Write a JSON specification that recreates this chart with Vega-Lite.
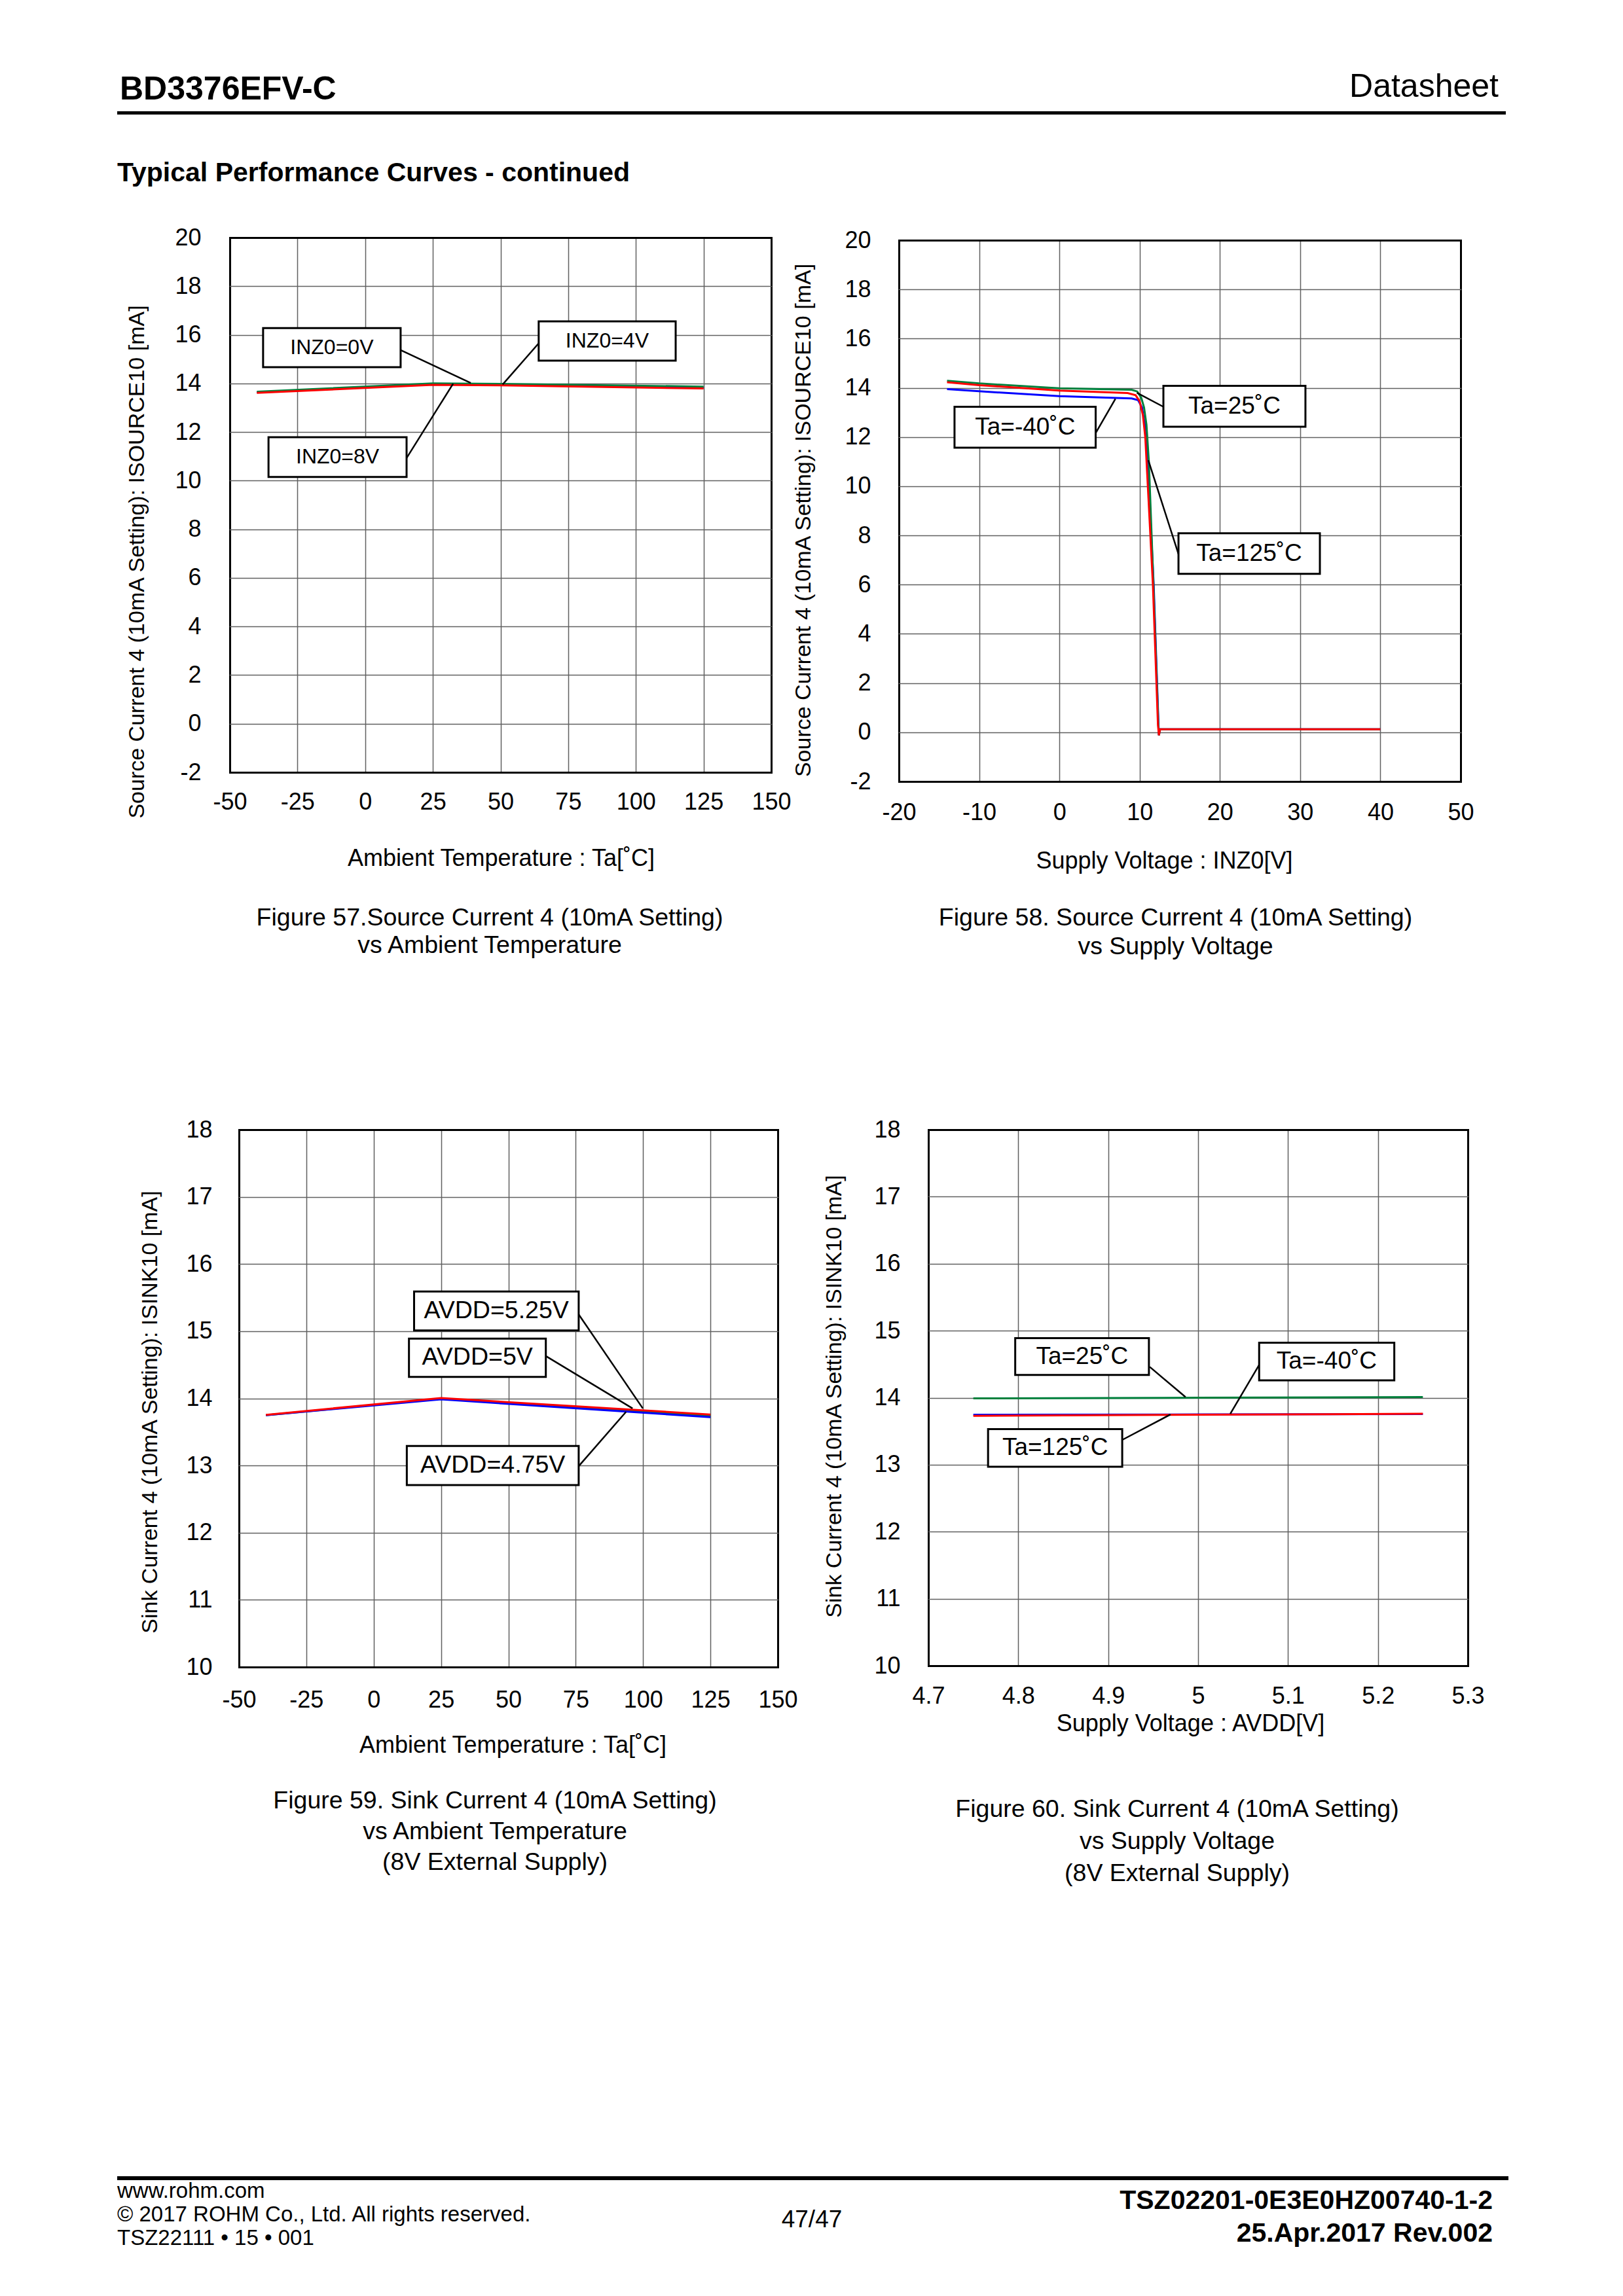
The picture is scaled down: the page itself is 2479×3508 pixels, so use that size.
{
  "$schema": "https://vega.github.io/schema/vega-lite/v6.json",
  "background": "white",
  "padding": 0,
  "spacing": 0,
  "columns": 6,
  "align": "each",
  "bounds": "flush",
  "resolve": {"scale": {"color": "independent"}},
  "datasets": {
    "none": [],
    "c1": [
      {"s": "1 INZ0=4V", "x": -40, "y": 13.63}, {"s": "1 INZ0=4V", "x": 25, "y": 13.97}, {"s": "1 INZ0=4V", "x": 50, "y": 13.95}, {"s": "1 INZ0=4V", "x": 125, "y": 13.83},
      {"s": "2 INZ0=0V", "x": -40, "y": 13.66}, {"s": "2 INZ0=0V", "x": 25, "y": 14.0}, {"s": "2 INZ0=0V", "x": 50, "y": 13.98}, {"s": "2 INZ0=0V", "x": 125, "y": 13.87},
      {"s": "3 INZ0=8V", "x": -40, "y": 13.61}, {"s": "3 INZ0=8V", "x": 25, "y": 13.94}, {"s": "3 INZ0=8V", "x": 50, "y": 13.92}, {"s": "3 INZ0=8V", "x": 125, "y": 13.79}
    ],
    "b1": [{"x": -37.7, "x2": 13.1, "y": 14.67, "y2": 16.28}, {"x": 64.1, "x2": 114.7, "y": 14.94, "y2": 16.55}, {"x": -35.7, "x2": 15.3, "y": 10.15, "y2": 11.79}],
    "l1": [{"x": 13.1, "y": 15.37, "x2": 39.0, "y2": 14.02}, {"x": 64.1, "y": 15.65, "x2": 50.8, "y2": 13.96}, {"x": 15.3, "y": 10.93, "x2": 32.5, "y2": 13.99}],
    "t1": [{"label": "INZ0=0V", "x": -12.3, "y": 15.47}, {"label": "INZ0=4V", "x": 89.4, "y": 15.75}, {"label": "INZ0=8V", "x": -10.2, "y": 10.97}],
    "c2": [
      {"s": "1 Ta=-40", "x": -14, "y": 13.95}, {"s": "1 Ta=-40", "x": -10, "y": 13.86}, {"s": "1 Ta=-40", "x": 0, "y": 13.66}, {"s": "1 Ta=-40", "x": 9, "y": 13.57}, {"s": "1 Ta=-40", "x": 9.8, "y": 13.5}, {"s": "1 Ta=-40", "x": 10.3, "y": 13.2}, {"s": "1 Ta=-40", "x": 10.7, "y": 12.4}, {"s": "1 Ta=-40", "x": 11.0, "y": 11.0}, {"s": "1 Ta=-40", "x": 11.75, "y": 6.0}, {"s": "1 Ta=-40", "x": 12.35, "y": 0.3}, {"s": "1 Ta=-40", "x": 12.4, "y": -0.12}, {"s": "1 Ta=-40", "x": 12.55, "y": 0.12}, {"s": "1 Ta=-40", "x": 40, "y": 0.12},
      {"s": "2 Ta=25", "x": -14, "y": 14.29}, {"s": "2 Ta=25", "x": -10, "y": 14.18}, {"s": "2 Ta=25", "x": 0, "y": 13.98}, {"s": "2 Ta=25", "x": 9, "y": 13.92}, {"s": "2 Ta=25", "x": 9.7, "y": 13.85}, {"s": "2 Ta=25", "x": 10.2, "y": 13.6}, {"s": "2 Ta=25", "x": 10.55, "y": 13.2}, {"s": "2 Ta=25", "x": 10.85, "y": 12.5}, {"s": "2 Ta=25", "x": 11.15, "y": 11.0}, {"s": "2 Ta=25", "x": 11.72, "y": 6.0}, {"s": "2 Ta=25", "x": 12.33, "y": 0.3}, {"s": "2 Ta=25", "x": 12.4, "y": -0.12}, {"s": "2 Ta=25", "x": 12.55, "y": 0.12}, {"s": "2 Ta=25", "x": 40, "y": 0.12},
      {"s": "3 Ta=125", "x": -14, "y": 14.23}, {"s": "3 Ta=125", "x": -10, "y": 14.11}, {"s": "3 Ta=125", "x": 0, "y": 13.89}, {"s": "3 Ta=125", "x": 8.5, "y": 13.79}, {"s": "3 Ta=125", "x": 9.5, "y": 13.7}, {"s": "3 Ta=125", "x": 10.0, "y": 13.45}, {"s": "3 Ta=125", "x": 10.4, "y": 12.9}, {"s": "3 Ta=125", "x": 10.7, "y": 12.0}, {"s": "3 Ta=125", "x": 11.1, "y": 9.5}, {"s": "3 Ta=125", "x": 11.65, "y": 6.0}, {"s": "3 Ta=125", "x": 12.28, "y": 0.3}, {"s": "3 Ta=125", "x": 12.4, "y": -0.12}, {"s": "3 Ta=125", "x": 12.55, "y": 0.12}, {"s": "3 Ta=125", "x": 40, "y": 0.12}
    ],
    "b2": [{"x": -13.07, "x2": 4.52, "y": 11.57, "y2": 13.23}, {"x": 12.96, "x2": 30.66, "y": 12.42, "y2": 14.08}, {"x": 14.84, "x2": 32.46, "y": 6.44, "y2": 8.09}],
    "l2": [{"x": 4.52, "y": 12.16, "x2": 6.98, "y2": 13.55}, {"x": 12.96, "y": 13.23, "x2": 9.66, "y2": 13.8}, {"x": 14.84, "y": 7.24, "x2": 11.08, "y2": 11.06}],
    "t2": [{"label": "Ta=-40˚C", "x": -4.27, "y": 12.4}, {"label": "Ta=25˚C", "x": 21.81, "y": 13.25}, {"label": "Ta=125˚C", "x": 23.65, "y": 7.27}],
    "c3": [
      {"s": "1 AVDD=5V", "x": -40, "y": 13.75}, {"s": "1 AVDD=5V", "x": 25, "y": 13.995}, {"s": "1 AVDD=5V", "x": 125, "y": 13.74},
      {"s": "2 AVDD=4.75V", "x": -40, "y": 13.75}, {"s": "2 AVDD=4.75V", "x": 25, "y": 13.985}, {"s": "2 AVDD=4.75V", "x": 125, "y": 13.72},
      {"s": "3 AVDD=5.25V", "x": -40, "y": 13.755}, {"s": "3 AVDD=5.25V", "x": 25, "y": 14.005}, {"s": "3 AVDD=5.25V", "x": 125, "y": 13.76}
    ],
    "b3": [{"x": 15.0, "x2": 76.1, "y": 15.01, "y2": 15.59}, {"x": 13.1, "x2": 63.9, "y": 14.32, "y2": 14.89}, {"x": 12.3, "x2": 76.1, "y": 12.71, "y2": 13.29}],
    "l3": [{"x": 76.1, "y": 15.25, "x2": 99.9, "y2": 13.85}, {"x": 63.9, "y": 14.63, "x2": 96.1, "y2": 13.85}, {"x": 76.1, "y": 12.99, "x2": 93.7, "y2": 13.8}],
    "t3": [{"label": "AVDD=5.25V", "x": 45.55, "y": 15.3}, {"label": "AVDD=5V", "x": 38.5, "y": 14.605}, {"label": "AVDD=4.75V", "x": 44.2, "y": 13.0}],
    "c4": [
      {"s": "1 Ta=25", "x": 4.75, "y": 13.99}, {"s": "1 Ta=25", "x": 5.0, "y": 14.0}, {"s": "1 Ta=25", "x": 5.25, "y": 14.01},
      {"s": "2 Ta=-40", "x": 4.75, "y": 13.745}, {"s": "2 Ta=-40", "x": 5.0, "y": 13.75}, {"s": "2 Ta=-40", "x": 5.25, "y": 13.755},
      {"s": "3 Ta=125", "x": 4.75, "y": 13.73}, {"s": "3 Ta=125", "x": 5.0, "y": 13.745}, {"s": "3 Ta=125", "x": 5.25, "y": 13.76}
    ],
    "b4": [{"x": 4.7966, "x2": 4.9453, "y": 14.34, "y2": 14.89}, {"x": 5.0679, "x2": 5.2182, "y": 14.26, "y2": 14.82}, {"x": 4.7664, "x2": 4.9156, "y": 12.97, "y2": 13.53}],
    "l4": [{"x": 4.9462, "y": 14.46, "x2": 4.986, "y2": 14.01}, {"x": 5.0679, "y": 14.49, "x2": 5.0358, "y2": 13.76}, {"x": 4.9156, "y": 13.37, "x2": 4.9693, "y2": 13.75}],
    "t4": [{"label": "Ta=25˚C", "x": 4.871, "y": 14.615}, {"label": "Ta=-40˚C", "x": 5.143, "y": 14.54}, {"label": "Ta=125˚C", "x": 4.841, "y": 13.25}]
  },
  "concat": [
    {"width": 179, "height": 1, "data": {"name": "none"}, "mark": "text"},
    {"width": 172, "height": 170, "data": {"name": "none"}, "mark": "text",
     "title": {"text": "BD3376EFV-C", "orient": "bottom", "anchor": "start", "frame": "group", "offset": -18, "dx": 4, "baseline": "alphabetic", "fontSize": 50, "fontWeight": "bold", "color": "black"}},
    {"width": 1, "height": 1, "data": {"name": "none"}, "mark": "text"},
    {"width": 1, "height": 1, "data": {"name": "none"}, "mark": "text"},
    {"width": 1, "height": 1, "data": {"name": "none"}, "mark": "text"},
    {"width": 47, "height": 170, "data": {"name": "none"}, "mark": "text",
     "title": {"text": "Datasheet", "orient": "bottom", "anchor": "end", "frame": "group", "offset": -22, "baseline": "alphabetic", "fontSize": 50, "fontWeight": "normal", "color": "black"}},

    {"width": 179, "height": 1, "data": {"name": "none"}, "mark": "text"},
    {"width": 172, "height": 5, "data": {"name": "none"}, "mark": "text", "view": {"fill": "black"}},
    {"width": 837, "height": 5, "data": {"name": "none"}, "mark": "text", "view": {"fill": "black"}},
    {"width": 185, "height": 5, "data": {"name": "none"}, "mark": "text", "view": {"fill": "black"}},
    {"width": 869, "height": 5, "data": {"name": "none"}, "mark": "text", "view": {"fill": "black"}},
    {"width": 58, "height": 5, "data": {"name": "none"}, "mark": "text", "view": {"fill": "black"}},

    {"width": 179, "height": 1, "data": {"name": "none"}, "mark": "text"},
    {"width": 172, "height": 188, "data": {"name": "none"}, "mark": "text",
     "title": {"text": "Typical Performance Curves - continued", "orient": "bottom", "anchor": "start", "frame": "group", "offset": -86, "baseline": "alphabetic", "fontSize": 41, "fontWeight": "bold", "color": "black"}},
    {"width": 1, "height": 1, "data": {"name": "none"}, "mark": "text"},
    {"width": 1, "height": 1, "data": {"name": "none"}, "mark": "text"},
    {"width": 1, "height": 1, "data": {"name": "none"}, "mark": "text"},
    {"width": 1, "height": 1, "data": {"name": "none"}, "mark": "text"},

    {"width": 179, "height": 1, "data": {"name": "none"}, "mark": "text"},
    {"width": 1, "height": 1, "data": {"name": "none"}, "mark": "text"},
    {
      "width": 827, "height": 817,
      "title": {"text": ["Figure 57.Source Current 4 (10mA Setting)", "vs Ambient Temperature"], "orient": "bottom", "anchor": "middle", "frame": "group", "offset": 85, "dx": -16.5, "baseline": "alphabetic", "lineHeight": 42, "fontSize": 37.5, "fontWeight": "normal", "color": "black"},
      "encoding": {
        "x": {"field": "x", "type": "quantitative", "scale": {"domain": [-50, 150], "nice": false, "zero": false},
              "axis": {"title": "Ambient Temperature : Ta[˚C]", "values": [-50, -25, 0, 25, 50, 75, 100, 125, 150], "labelExpr": "replace(format(datum.value, '~g'), '−', '-')", "labelPadding": 28, "titleX": 414, "titleY": 131, "titleBaseline": "middle", "titleFontSize": 36,
                       "gridColor": {"condition": {"test": "datum.value <= -50 || datum.value >= 150", "value": "black"}, "value": "#606060"},
                       "gridWidth": {"condition": {"test": "datum.value <= -50 || datum.value >= 150", "value": 3}, "value": 1.5}}},
        "y": {"field": "y", "type": "quantitative", "scale": {"domain": [-2, 20], "nice": false, "zero": false},
              "axis": {"title": "Source Current 4 (10mA Setting): ISOURCE10 [mA]", "values": [-2, 0, 2, 4, 6, 8, 10, 12, 14, 16, 18, 20], "labelExpr": "replace(format(datum.value, '~g'), '−', '-')", "labelPadding": 44, "titleX": -142, "titleY": 495, "titleBaseline": "middle", "titleFontSize": 34,
                       "gridColor": {"condition": {"test": "datum.value <= -2 || datum.value >= 20", "value": "black"}, "value": "#606060"},
                       "gridWidth": {"condition": {"test": "datum.value <= -2 || datum.value >= 20", "value": 3}, "value": 1.5}}}
      },
      "layer": [
        {"data": {"name": "c1"}, "mark": {"type": "line", "strokeWidth": 3},
         "encoding": {"color": {"field": "s", "type": "nominal", "scale": {"domain": ["1 INZ0=4V", "2 INZ0=0V", "3 INZ0=8V"], "range": ["#0000ff", "#00803c", "#ff0000"]}, "legend": null}}},
        {"data": {"name": "l1"}, "mark": {"type": "rule", "strokeWidth": 2.5, "color": "black"}, "encoding": {"x2": {"field": "x2"}, "y2": {"field": "y2"}}},
        {"data": {"name": "b1"}, "mark": {"type": "rect", "fill": "white", "stroke": "black", "strokeWidth": 3}, "encoding": {"x2": {"field": "x2"}, "y2": {"field": "y2"}}},
        {"data": {"name": "t1"}, "mark": {"type": "text", "fontSize": 32, "align": "center", "baseline": "middle", "color": "black"}, "encoding": {"text": {"field": "label"}}}
      ]
    },
    {"width": 185, "height": 1, "data": {"name": "none"}, "mark": "text"},
    {
      "width": 858, "height": 835,
      "title": {"text": ["Figure 58. Source Current 4 (10mA Setting)", "vs Supply Voltage"], "orient": "bottom", "anchor": "middle", "frame": "group", "offset": 81, "dx": -6.5, "baseline": "alphabetic", "lineHeight": 44, "fontSize": 37.5, "fontWeight": "normal", "color": "black"},
      "encoding": {
        "x": {"field": "x", "type": "quantitative", "scale": {"domain": [-20, 50], "nice": false, "zero": false},
              "axis": {"title": "Supply Voltage : INZ0[V]", "offset": -4, "values": [-20, -10, 0, 10, 20, 30, 40, 50], "labelExpr": "replace(format(datum.value, '~g'), '−', '-')", "labelPadding": 30, "titleX": 405, "titleY": 121, "titleBaseline": "middle", "titleFontSize": 36,
                       "gridColor": {"condition": {"test": "datum.value <= -20 || datum.value >= 50", "value": "black"}, "value": "#606060"},
                       "gridWidth": {"condition": {"test": "datum.value <= -20 || datum.value >= 50", "value": 3}, "value": 1.5}}},
        "y": {"field": "y", "type": "quantitative", "scale": {"domain": [-2, 20], "range": [831, 4], "nice": false, "zero": false},
              "axis": {"title": "Source Current 4 (10mA Setting): ISOURCE10 [mA]", "values": [-2, 0, 2, 4, 6, 8, 10, 12, 14, 16, 18, 20], "labelExpr": "replace(format(datum.value, '~g'), '−', '-')", "labelPadding": 43, "titleX": -146, "titleY": 431.5, "titleBaseline": "middle", "titleFontSize": 34,
                       "gridColor": {"condition": {"test": "datum.value <= -2 || datum.value >= 20", "value": "black"}, "value": "#606060"},
                       "gridWidth": {"condition": {"test": "datum.value <= -2 || datum.value >= 20", "value": 3}, "value": 1.5}}}
      },
      "layer": [
        {"data": {"name": "c2"}, "mark": {"type": "line", "strokeWidth": 3},
         "encoding": {"color": {"field": "s", "type": "nominal", "scale": {"domain": ["1 Ta=-40", "2 Ta=25", "3 Ta=125"], "range": ["#0000ff", "#00803c", "#ff0000"]}, "legend": null}}},
        {"data": {"name": "l2"}, "mark": {"type": "rule", "strokeWidth": 2.5, "color": "black"}, "encoding": {"x2": {"field": "x2"}, "y2": {"field": "y2"}}},
        {"data": {"name": "b2"}, "mark": {"type": "rect", "fill": "white", "stroke": "black", "strokeWidth": 3}, "encoding": {"x2": {"field": "x2"}, "y2": {"field": "y2"}}},
        {"data": {"name": "t2"}, "mark": {"type": "text", "fontSize": 37, "align": "center", "baseline": "middle", "color": "black"}, "encoding": {"text": {"field": "label"}}}
      ]
    },
    {"width": 1, "height": 1, "data": {"name": "none"}, "mark": "text"},

    {"width": 179, "height": 1, "data": {"name": "none"}, "mark": "text"},
    {"width": 1, "height": 528, "data": {"name": "none"}, "mark": "text"},
    {"width": 1, "height": 1, "data": {"name": "none"}, "mark": "text"},
    {"width": 1, "height": 1, "data": {"name": "none"}, "mark": "text"},
    {"width": 1, "height": 1, "data": {"name": "none"}, "mark": "text"},
    {"width": 1, "height": 1, "data": {"name": "none"}, "mark": "text"},

    {"width": 179, "height": 1, "data": {"name": "none"}, "mark": "text"},
    {"width": 1, "height": 1, "data": {"name": "none"}, "mark": "text"},
    {
      "width": 837, "height": 821,
      "title": {"text": ["Figure 59. Sink Current 4 (10mA Setting)", "vs Ambient Temperature", "(8V External Supply)"], "orient": "bottom", "anchor": "middle", "frame": "group", "offset": 79, "dx": -13.5, "baseline": "alphabetic", "lineHeight": 47, "fontSize": 37.5, "fontWeight": "normal", "color": "black"},
      "encoding": {
        "x": {"field": "x", "type": "quantitative", "scale": {"domain": [-50, 150], "range": [14, 837], "nice": false, "zero": false},
              "axis": {"title": "Ambient Temperature : Ta[˚C]", "values": [-50, -25, 0, 25, 50, 75, 100, 125, 150], "labelExpr": "replace(format(datum.value, '~g'), '−', '-')", "labelPadding": 33, "titleX": 432, "titleY": 119, "titleBaseline": "middle", "titleFontSize": 36,
                       "gridColor": {"condition": {"test": "datum.value <= -50 || datum.value >= 150", "value": "black"}, "value": "#606060"},
                       "gridWidth": {"condition": {"test": "datum.value <= -50 || datum.value >= 150", "value": 3}, "value": 1.5}}},
        "y": {"field": "y", "type": "quantitative", "scale": {"domain": [10, 18], "nice": false, "zero": false},
              "axis": {"title": "Sink Current 4 (10mA Setting): ISINK10 [mA]", "offset": -14, "values": [10, 11, 12, 13, 14, 15, 16, 17, 18], "labelExpr": "format(datum.value, '~g')", "labelPadding": 41, "titleX": -136, "titleY": 431, "titleBaseline": "middle", "titleFontSize": 34,
                       "gridColor": {"condition": {"test": "datum.value <= 10 || datum.value >= 18", "value": "black"}, "value": "#606060"},
                       "gridWidth": {"condition": {"test": "datum.value <= 10 || datum.value >= 18", "value": 3}, "value": 1.5}}}
      },
      "layer": [
        {"data": {"name": "c3"}, "mark": {"type": "line", "strokeWidth": 3},
         "encoding": {"color": {"field": "s", "type": "nominal", "scale": {"domain": ["1 AVDD=5V", "2 AVDD=4.75V", "3 AVDD=5.25V"], "range": ["#00803c", "#0000ff", "#ff0000"]}, "legend": null}}},
        {"data": {"name": "l3"}, "mark": {"type": "rule", "strokeWidth": 2.5, "color": "black"}, "encoding": {"x2": {"field": "x2"}, "y2": {"field": "y2"}}},
        {"data": {"name": "b3"}, "mark": {"type": "rect", "fill": "white", "stroke": "black", "strokeWidth": 3}, "encoding": {"x2": {"field": "x2"}, "y2": {"field": "y2"}}},
        {"data": {"name": "t3"}, "mark": {"type": "text", "fontSize": 37.5, "align": "center", "baseline": "middle", "color": "black"}, "encoding": {"text": {"field": "label"}}}
      ]
    },
    {"width": 1, "height": 1, "data": {"name": "none"}, "mark": "text"},
    {
      "width": 869, "height": 819,
      "title": {"text": ["Figure 60. Sink Current 4 (10mA Setting)", "vs Supply Voltage", "(8V External Supply)"], "orient": "bottom", "anchor": "middle", "frame": "group", "offset": 125, "dx": -9.5, "baseline": "alphabetic", "lineHeight": 49, "fontSize": 37.5, "fontWeight": "normal", "color": "black"},
      "encoding": {
        "x": {"field": "x", "type": "quantitative", "scale": {"domain": [4.7, 5.3], "range": [45, 869], "nice": false, "zero": false},
              "axis": {"title": "Supply Voltage : AVDD[V]", "values": [4.7, 4.8, 4.9, 5.0, 5.1, 5.2, 5.3], "labelExpr": "format(datum.value, '~g')", "labelPadding": 29, "titleX": 445, "titleY": 88, "titleBaseline": "middle", "titleFontSize": 36,
                       "gridColor": {"condition": {"test": "datum.value < 4.71 || datum.value > 5.29", "value": "black"}, "value": "#606060"},
                       "gridWidth": {"condition": {"test": "datum.value < 4.71 || datum.value > 5.29", "value": 3}, "value": 1.5}}},
        "y": {"field": "y", "type": "quantitative", "scale": {"domain": [10, 18], "nice": false, "zero": false},
              "axis": {"title": "Sink Current 4 (10mA Setting): ISINK10 [mA]", "offset": -45, "values": [10, 11, 12, 13, 14, 15, 16, 17, 18], "labelExpr": "format(datum.value, '~g')", "labelPadding": 43, "titleX": -144, "titleY": 407, "titleBaseline": "middle", "titleFontSize": 34,
                       "gridColor": {"condition": {"test": "datum.value <= 10 || datum.value >= 18", "value": "black"}, "value": "#606060"},
                       "gridWidth": {"condition": {"test": "datum.value <= 10 || datum.value >= 18", "value": 3}, "value": 1.5}}}
      },
      "layer": [
        {"data": {"name": "c4"}, "mark": {"type": "line", "strokeWidth": 3},
         "encoding": {"color": {"field": "s", "type": "nominal", "scale": {"domain": ["1 Ta=25", "2 Ta=-40", "3 Ta=125"], "range": ["#00803c", "#0000ff", "#ff0000"]}, "legend": null}}},
        {"data": {"name": "l4"}, "mark": {"type": "rule", "strokeWidth": 2.5, "color": "black"}, "encoding": {"x2": {"field": "x2"}, "y2": {"field": "y2"}}},
        {"data": {"name": "b4"}, "mark": {"type": "rect", "fill": "white", "stroke": "black", "strokeWidth": 3}, "encoding": {"x2": {"field": "x2"}, "y2": {"field": "y2"}}},
        {"data": {"name": "t4"}, "mark": {"type": "text", "fontSize": 37, "align": "center", "baseline": "middle", "color": "black"}, "encoding": {"text": {"field": "label"}}}
      ]
    },
    {"width": 1, "height": 1, "data": {"name": "none"}, "mark": "text"},

    {"width": 179, "height": 1, "data": {"name": "none"}, "mark": "text"},
    {"width": 1, "height": 1, "data": {"name": "none"}, "mark": "text"},
    {"width": 1, "height": 1, "data": {"name": "none"}, "mark": "text"},
    {"width": 185, "height": 778, "data": {"name": "none"}, "mark": "text",
     "title": {"text": "47/47", "orient": "bottom", "anchor": "middle", "frame": "group", "offset": 78, "dx": -40.5, "baseline": "alphabetic", "fontSize": 37, "fontWeight": "normal", "color": "black"}},
    {"width": 1, "height": 1, "data": {"name": "none"}, "mark": "text"},
    {"width": 1, "height": 1, "data": {"name": "none"}, "mark": "text"},

    {"width": 179, "height": 1, "data": {"name": "none"}, "mark": "text"},
    {"width": 172, "height": 6, "data": {"name": "none"}, "mark": "text", "view": {"fill": "black"},
     "title": {"text": ["www.rohm.com", "© 2017 ROHM Co., Ltd. All rights reserved.", "TSZ22111 • 15 • 001"], "orient": "bottom", "anchor": "start", "frame": "group", "offset": 27, "baseline": "alphabetic", "lineHeight": 36, "fontSize": 33, "fontWeight": "normal", "color": "black"}},
    {"width": 837, "height": 6, "data": {"name": "none"}, "mark": "text", "view": {"fill": "black"}},
    {"width": 185, "height": 6, "data": {"name": "none"}, "mark": "text", "view": {"fill": "black"}},
    {"width": 869, "height": 6, "data": {"name": "none"}, "mark": "text", "view": {"fill": "black"}},
    {"width": 62, "height": 6, "data": {"name": "none"}, "mark": "text", "view": {"fill": "black"}},

    {"width": 179, "height": 1, "data": {"name": "none"}, "mark": "text"},
    {"width": 1, "height": 1, "data": {"name": "none"}, "mark": "text"},
    {"width": 1, "height": 1, "data": {"name": "none"}, "mark": "text"},
    {"width": 1, "height": 1, "data": {"name": "none"}, "mark": "text"},
    {"width": 1, "height": 1, "data": {"name": "none"}, "mark": "text"},
    {"width": 38, "height": 1, "data": {"name": "none"}, "mark": "text",
     "title": {"text": ["TSZ02201-0E3E0HZ00740-1-2", "25.Apr.2017 Rev.002"], "orient": "bottom", "anchor": "end", "frame": "group", "offset": 43, "baseline": "alphabetic", "lineHeight": 50, "fontSize": 41, "fontWeight": "bold", "color": "black"}}
  ],
  "config": {
    "font": "Liberation Sans",
    "view": {"stroke": null},
    "axis": {
      "grid": true, "gridCap": "square",
      "domain": false, "ticks": false,
      "labelFontSize": 36, "labelColor": "black",
      "titleFontWeight": "normal", "titleColor": "black",
      "labelFlush": false, "labelOverlap": false, "labelBound": false
    }
  }
}
